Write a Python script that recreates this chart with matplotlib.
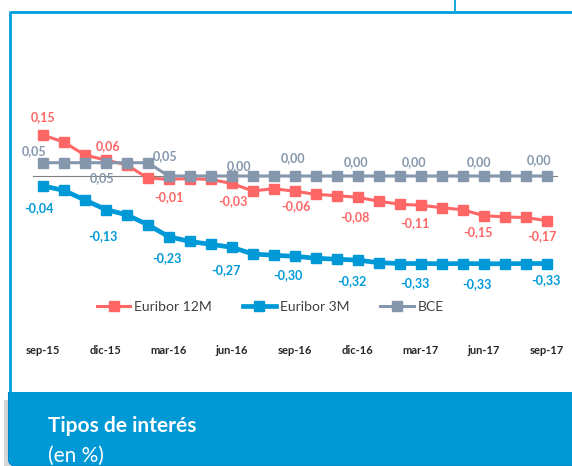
import matplotlib

matplotlib.use("Agg")
import matplotlib.pyplot as plt
from matplotlib.patches import FancyBboxPatch, Rectangle

plt.rcParams["font.family"] = ["Lato", "DejaVu Sans"]

W, H = 572, 466

# monthly data, sep-15 .. sep-17
euribor_12m = [0.154, 0.128, 0.079, 0.060, 0.042, -0.008, -0.012, -0.010, -0.013,
               -0.028, -0.056, -0.048, -0.057, -0.069, -0.074, -0.080, -0.095,
               -0.106, -0.110, -0.119, -0.127, -0.149, -0.154, -0.156, -0.168]
euribor_3m = [-0.037, -0.054, -0.090, -0.126, -0.146, -0.183, -0.228, -0.246, -0.257,
              -0.268, -0.293, -0.298, -0.302, -0.309, -0.313, -0.316, -0.326,
              -0.329, -0.329, -0.330, -0.329, -0.330, -0.330, -0.329, -0.329]
bce = [0.05, 0.05, 0.05, 0.05, 0.05, 0.05, 0.00, 0.00, 0.00, 0.00, 0.00, 0.00, 0.00,
       0.00, 0.00, 0.00, 0.00, 0.00, 0.00, 0.00, 0.00, 0.00, 0.00, 0.00, 0.00]

tick_labels = ["sep-15", "dic-15", "mar-16", "jun-16", "sep-16",
               "dic-16", "mar-17", "jun-17", "sep-17"]
label_idx = [0, 3, 6, 9, 12, 15, 18, 21, 24]
labels_12m = ["0,15", "0,06", "-0,01", "-0,03", "-0,06", "-0,08", "-0,11", "-0,15", "-0,17"]
labels_3m = ["-0,04", "-0,13", "-0,23", "-0,27", "-0,30", "-0,32", "-0,33", "-0,33", "-0,33"]
labels_bce = ["0,05", "0,05", "0,05", "0,00", "0,00", "0,00", "0,00", "0,00", "0,00"]

RED = "#FF6666"
BLUE = "#0099D8"
GREY = "#8497AC"
FRAME = "#00A0DC"
PANEL = "#0099D6"

# label offsets in pixels (dx, dy up-positive)
off_12m = [(0, 18), (2, 14), (0, -18), (1, -18), (1, -15), (-3, -20), (-6, -18), (-6, -16), (-5, -15)]
off_3m = [(-4, -22), (-3, -27), (-2, -21), (-6, -23), (-7, -19), (-6, -21), (-6, -20), (-7, -20), (-1, -17)]
off_bce = [(-9, 12), (-4, -15), (-4, 20), (7, 10), (-2, 18), (-2, 14), (-7, 14), (-5, 14), (-8, 16)]

fig = plt.figure(figsize=(W / 100, H / 100), dpi=100)

# decoration layer in pixel coordinates
deco = fig.add_axes([0, 0, 1, 1], zorder=0)
deco.set_xlim(0, W)
deco.set_ylim(H, 0)
deco.axis("off")
deco.add_patch(Rectangle((4, 400), 6, 66, color="#d6d6d6", lw=0))
deco.add_patch(FancyBboxPatch((8.5, 370), 600, 96, boxstyle="round,pad=0,rounding_size=7",
                              facecolor=PANEL, edgecolor="#0088C4", lw=0.8))
deco.add_patch(Rectangle((0, 350), W, 42, color="white", lw=0))
deco.plot([10, W], [12, 12], color=FRAME, lw=2.0, solid_capstyle="butt")
deco.plot([10, 10], [11, 393], color=FRAME, lw=2.0, solid_capstyle="butt")
deco.plot([455, 455], [0, 12], color=FRAME, lw=1.3)
deco.text(48, 426, "Tipos de interés", color="white", fontsize=15, fontweight="bold", va="center")
deco.text(48, 456, "(en %)", color="white", fontsize=15, va="center")

# chart layer, scaled so that points land where they sit in the picture
ax = fig.add_axes([0, 0, 1, 1], zorder=1)
ax.patch.set_alpha(0)
ax.set_xlim(-42.7 / 21, (W - 42.7) / 21)
ax.set_ylim((176 - H) / 266, 176 / 266)
ax.axis("off")

x = list(range(len(bce)))
ax.plot([-0.45, 24.5], [0, 0], color="#7f7f7f", lw=0.8, zorder=1)
l1, = ax.plot(x, euribor_12m, color=RED, lw=2.2, marker="s", ms=6.5, label="Euribor 12M", zorder=2)
l2, = ax.plot(x, euribor_3m, color=BLUE, lw=3.4, marker="s", ms=7, label="Euribor 3M", zorder=2)
l3, = ax.plot(x, bce, color=GREY, lw=2.2, marker="s", ms=6.5, label="BCE", zorder=3)

for series, texts, offs, col in [(euribor_12m, labels_12m, off_12m, RED),
                                 (euribor_3m, labels_3m, off_3m, BLUE),
                                 (bce, labels_bce, off_bce, GREY)]:
    for i, t, (dx, dy) in zip(label_idx, texts, offs):
        ax.annotate(t, (i, series[i]), xytext=(dx, dy), textcoords="offset pixels",
                    ha="center", va="center", color=col, fontsize=9, fontweight="bold")

for i, t in zip(label_idx, tick_labels):
    ax.text(i, 1 - 350 / H, t, transform=ax.get_xaxis_transform(), ha="center", va="center",
            fontsize=8, fontweight="bold", color="#262626")

ax.legend(handles=[l1, l2, l3], loc="center left", bbox_to_anchor=(97 / W, 1 - 307 / H),
          bbox_transform=fig.transFigure, ncol=3, frameon=False, fontsize=10,
          handlelength=2.4, handletextpad=0.3, columnspacing=2.2, borderpad=0,
          borderaxespad=0, labelcolor="#404040")

fig.savefig("out.png", dpi=100)
